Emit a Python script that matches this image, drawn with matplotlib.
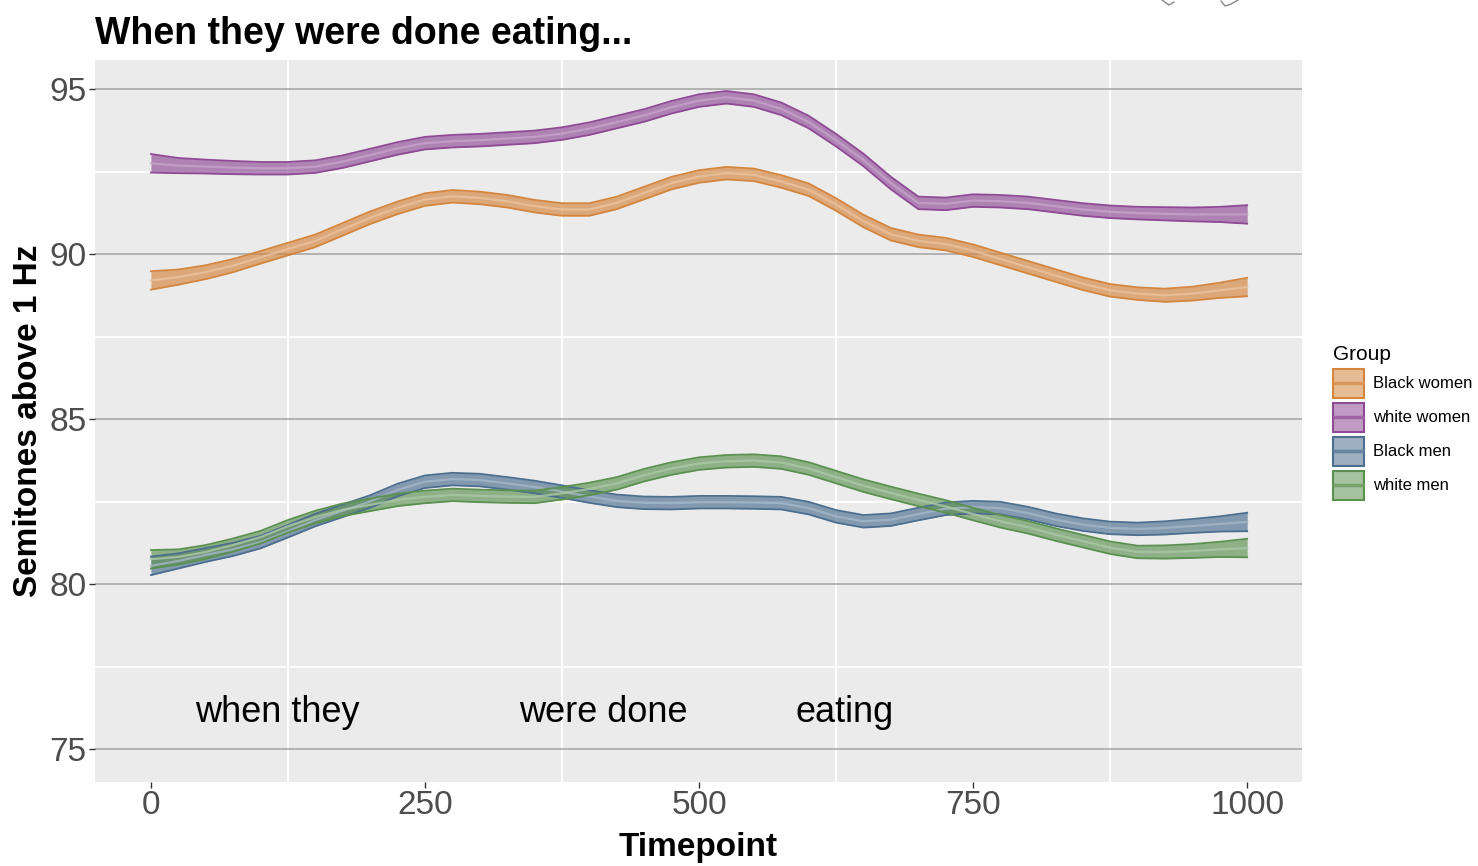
import numpy as np
import matplotlib
matplotlib.use("Agg")
import matplotlib.pyplot as plt
from matplotlib.patches import Rectangle
from matplotlib.lines import Line2D
from matplotlib.colors import to_rgb

plt.rcParams['font.family'] = ['Liberation Sans', 'DejaVu Sans']

# timepoints (every 25)
timepoint = list(range(0, 1001, 25))

black_women = [89.20, 89.30, 89.45, 89.65, 89.90, 90.15, 90.40, 90.75, 91.10, 91.40,
               91.65, 91.75, 91.70, 91.60, 91.45, 91.35, 91.35, 91.55, 91.85, 92.15,
               92.35, 92.45, 92.40, 92.20, 91.95, 91.50, 91.00, 90.60, 90.40, 90.30,
               90.10, 89.85, 89.60, 89.35, 89.10, 88.90, 88.80, 88.75, 88.80, 88.90,
               89.00]
white_women = [92.75, 92.68, 92.65, 92.62, 92.60, 92.60, 92.65, 92.80, 93.00, 93.20,
               93.36, 93.42, 93.45, 93.50, 93.55, 93.65, 93.80, 94.00, 94.20, 94.45,
               94.65, 94.75, 94.65, 94.40, 94.00, 93.45, 92.85, 92.15, 91.55, 91.52,
               91.62, 91.60, 91.55, 91.45, 91.35, 91.28, 91.24, 91.22, 91.20, 91.20,
               91.20]
black_men = [80.55, 80.70, 80.88, 81.05, 81.27, 81.60, 81.94, 82.22, 82.50, 82.85,
             83.10, 83.18, 83.15, 83.05, 82.94, 82.80, 82.65, 82.52, 82.46, 82.45,
             82.48, 82.48, 82.47, 82.45, 82.30, 82.05, 81.90, 81.95, 82.12, 82.28,
             82.33, 82.30, 82.15, 81.95, 81.80, 81.70, 81.67, 81.70, 81.76, 81.82,
             81.88]
white_men = [80.75, 80.82, 80.97, 81.18, 81.42, 81.75, 82.03, 82.25, 82.40, 82.55,
             82.64, 82.70, 82.67, 82.65, 82.64, 82.75, 82.88, 83.05, 83.30, 83.50,
             83.65, 83.72, 83.74, 83.68, 83.50, 83.24, 82.98, 82.76, 82.55, 82.35,
             82.12, 81.90, 81.72, 81.50, 81.30, 81.10, 80.97, 80.97, 81.00, 81.05,
             81.09]
# ribbon half width (semitones)
half_width = [0.28, 0.23, 0.21, 0.20, 0.19, 0.19, 0.19, 0.19, 0.19, 0.19,
              0.19, 0.19, 0.19, 0.19, 0.19, 0.19, 0.19, 0.19, 0.19, 0.19,
              0.19, 0.19, 0.19, 0.19, 0.19, 0.19, 0.19, 0.19, 0.19, 0.19,
              0.19, 0.19, 0.19, 0.19, 0.19, 0.19, 0.19, 0.20, 0.21, 0.23,
              0.28]

groups = ["Black women", "white women", "Black men", "white men"]
series = [black_women, white_women, black_men, white_men]
colors = ["#D4853E", "#8E4A94", "#4C6E8F", "#5B9150"]

words = ["when they", "were done", "eating"]
word_x = [115, 413, 633]
word_y = 76.1

fig = plt.figure(figsize=(14.78, 8.66), dpi=100)
ax = fig.add_axes([95/1478, 1-782/866, 1207/1478, 722/866])
ax.set_facecolor("#EBEBEB")
for s in ax.spines.values():
    s.set_visible(False)

x = np.array(timepoint)
hw = np.array(half_width)


def lighten(c, f):
    r = np.array(to_rgb(c))
    return tuple(r + (1 - r) * f)


class RibbonKey:
    def __init__(self, c):
        self.c = c


class RibbonKeyHandler:
    # filled box with a line through the middle, like the ggplot key
    def legend_artist(self, legend, orig_handle, fontsize, handlebox):
        x0, y0 = -handlebox.xdescent, -handlebox.ydescent
        w, h = handlebox.width, handlebox.height
        c = orig_handle.c
        tr = handlebox.get_transform()
        rect = Rectangle((x0, y0), w, h, facecolor=lighten(c, 0.45), edgecolor=c,
                         lw=1.5, transform=tr)
        line = Line2D([x0, x0 + w], [y0 + h / 2, y0 + h / 2], color=lighten(c, 0.15),
                      lw=2.5, solid_capstyle="butt", transform=tr)
        handlebox.add_artist(rect)
        handlebox.add_artist(line)
        return rect


handles = []
for name, ys, c in zip(groups, series, colors):
    y = np.array(ys)
    ax.fill_between(x, y - hw, y + hw, color=c, alpha=0.65, lw=0, zorder=3)
    ax.plot(x, y - hw, color=c, lw=1.3, zorder=4, solid_joinstyle="round")
    ax.plot(x, y + hw, color=c, lw=1.3, zorder=4, solid_joinstyle="round")
    ax.plot(x, y, color=lighten(c, 0.5), lw=1.6, alpha=0.8, zorder=4,
            solid_joinstyle="round")
    handles.append(RibbonKey(c))

for w, wx in zip(words, word_x):
    ax.text(wx, word_y, w, fontsize=26, ha="center", va="center", color="black", zorder=5)

ax.set_xlim(-51, 1050)
ax.set_ylim(74.0, 95.88)
ax.set_xticks([0, 250, 500, 750, 1000])
ax.set_yticks([75, 80, 85, 90, 95])
ax.set_xticks([125, 375, 625, 875], minor=True)
ax.set_yticks([77.5, 82.5, 87.5, 92.5], minor=True)
ax.grid(which="minor", color="white", lw=1.3, zorder=0)
ax.grid(which="major", axis="y", color="#A3A3A3", lw=1.1, zorder=1)
ax.set_axisbelow(True)
ax.tick_params(which="minor", length=0)
ax.tick_params(which="major", labelsize=24, labelcolor="#4D4D4D", color="#333333",
               length=4, width=1, pad=2)

ax.set_xlabel("Timepoint", fontsize=24, fontweight="bold")
ax.xaxis.set_label_coords(0.5, -0.069)
ax.set_ylabel("Semitones above 1 Hz", fontsize=24, fontweight="bold", va="center")
ax.yaxis.set_label_coords(-0.0555, 0.5)

fig.text(95/1478, 1-44/866, "When they were done eating...", fontsize=27,
         fontweight="bold", va="baseline", ha="left")

leg = fig.legend(handles, groups, handler_map={RibbonKey: RibbonKeyHandler()},
                 loc="upper left", bbox_to_anchor=(1326/1478, 1-338/866), frameon=False,
                 fontsize=12, title="Group", title_fontsize=15, handlelength=1.85,
                 handleheight=2.3, labelspacing=0.3, handletextpad=0.55,
                 alignment="left", borderaxespad=0)

# clipped icon at the top right of the screenshot
fig.add_artist(Line2D([1162/1478, 1169/1478, 1174/1478], [1, 1-5/866, 1-2/866],
                      color="#888888", lw=1))
fig.add_artist(Line2D([1221/1478, 1225/1478, 1231/1478, 1238/1478],
                      [1-1/866, 1-6/866, 1-4/866, 1], color="#888888", lw=1))

fig.savefig("out.png", dpi=100)
